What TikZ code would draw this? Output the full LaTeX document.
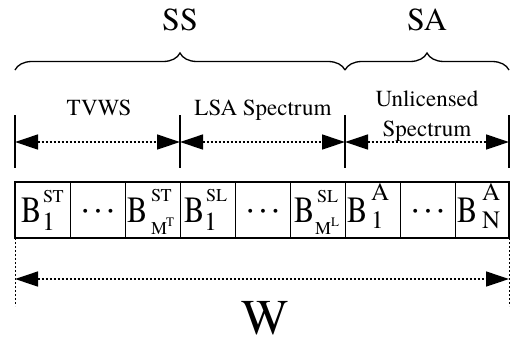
\documentclass[tikz,border=0pt]{standalone}
\usepackage{fontspec}
\usepackage{graphicx}
\setmainfont{texgyretermes-regular.otf}
\usetikzlibrary{arrows.meta,decorations.pathreplacing}
\begin{document}
\begin{tikzpicture}[x=1pt,y=-1pt,
  lbl/.style={inner sep=0pt,outer sep=0pt,anchor=base},
  lblw/.style={inner sep=0pt,outer sep=0pt,anchor=base west},
  bigf/.style={font=\fontsize{32}{36}\selectfont},
  midf/.style={font=\fontsize{23}{28}\selectfont},
  wf/.style={font=\fontsize{50}{52}\selectfont},
  bf/.style={font=\fontsize{37}{40}\selectfont},
  supf/.style={font=\fontsize{18}{20}\selectfont},
  supa/.style={font=\fontsize{25}{28}\selectfont},
  subf/.style={font=\fontsize{26}{28}\selectfont},
  mf/.style={font=\fontsize{18}{20}\selectfont},
  tinyf/.style={font=\fontsize{13}{16}\selectfont},
  dotsf/.style={font=\fontsize{29}{30}\selectfont\boldmath},
  bracestyle/.style={decorate,decoration={brace,amplitude=17pt},line width=1.3pt},
  marker/.style={line width=1.2pt},
  dimarrow/.style={{Triangle[length=23pt,width=15pt]}-{Triangle[length=23pt,width=15pt]},line width=1.3pt,dash pattern=on 2.5pt off 1.5pt},
  guide/.style={line width=1pt,dash pattern=on 2pt off 2pt},
]
\useasboundingbox (0,0) rectangle (516,343);

% top labels and braces
\node[bigf,lbl] (ss) at (180,30) {SS};
\node[bigf,lbl] (sa) at (427,30) {SA};
\coordinate (bs0) at (15,70);
\coordinate (bs1) at (345,70);
\coordinate (bs2) at (509,70);
\draw[bracestyle] (bs0) -- (bs1);
\draw[bracestyle] (bs1) -- (bs2);

% markers
\foreach \i/\x in {0/15,1/180,2/345,3/509}{
  \coordinate (vt\i) at (\x,115);
  \coordinate (vm\i) at (\x,142);
  \coordinate (vb\i) at (\x,168);
  \draw[marker] (vt\i) -- (vb\i);
}
\draw[dimarrow] (vm0) -- (vm1);
\draw[dimarrow] (vm1) -- (vm2);
\draw[dimarrow] (vm2) -- (vm3);

\node[midf,lbl] (tvws) at (99,115) {TVWS};
\node[midf,lbl] (lsa) at (263,115) {LSA Spectrum};
\node[midf,lbl] (unl1) at (427,106) {Unlicensed};
\node[midf,lbl] (unl2) at (427,136) {Spectrum};

% cells
\foreach \x in {70.5,125.5,180,235.5,290,345,400,455}{
  \draw[line width=0.9pt] (\x,182) -- (\x,238);
}
\coordinate (boxnw) at (15,182);
\coordinate (boxse) at (509,238);
\draw[line width=1.8pt] (boxnw) rectangle (boxse);

% cell labels
\node[bf,lblw] (b1) at (21,222) {\scalebox{0.82}[1]{B}};
\node[supf,lblw] (b1s) at (43,202) {ST};
\node[subf,lblw] (b1i) at (42,230) {1};

\node[dotsf,lbl] (d1) at (98,217) {$\cdots$};

\node[bf,lblw] (b3) at (127.5,222) {\scalebox{0.82}[1]{B}};
\node[supf,lblw] (b3s) at (151,201) {ST};
\node[mf,lblw] (b3m) at (151,234) {M};
\node[tinyf,lblw] (b3t) at (166,226) {T};

\node[bf,lblw] (b4) at (184,222) {\scalebox{0.82}[1]{B}};
\node[supf,lblw] (b4s) at (206,201) {SL};
\node[subf,lblw] (b4i) at (204,230) {1};

\node[dotsf,lbl] (d2) at (263,217) {$\cdots$};

\node[bf,lblw] (b6) at (294,222) {\scalebox{0.82}[1]{B}};
\node[supf,lblw] (b6s) at (317,202) {SL};
\node[mf,lblw] (b6m) at (315,234) {M};
\node[tinyf,lblw] (b6l) at (331,226) {L};

\node[bf,lblw] (b7) at (347,222) {\scalebox{0.82}[1]{B}};
\node[supa,lblw] (b7s) at (371,200) {A};
\node[supa,lblw] (b7i) at (371,228) {1};

\node[dotsf,lbl] (d3) at (428,217) {$\cdots$};

\node[bf,lblw] (b9) at (457,222) {\scalebox{0.82}[1]{B}};
\node[supa,lblw] (b9s) at (482,200) {A};
\node[supa,lblw] (b9i) at (482,228) {N};

% bottom width
\coordinate (gt0) at (15,238);
\coordinate (gm0) at (15,279);
\coordinate (gb0) at (15,306);
\coordinate (gt1) at (509,238);
\coordinate (gm1) at (509,279);
\coordinate (gb1) at (509,306);
\draw[guide] (gt0) -- (gb0);
\draw[guide] (gt1) -- (gb1);
\draw[dimarrow] (gm0) -- (gm1);
\node[wf,lbl] (w) at (265,334) {W};
\end{tikzpicture}
\end{document}
